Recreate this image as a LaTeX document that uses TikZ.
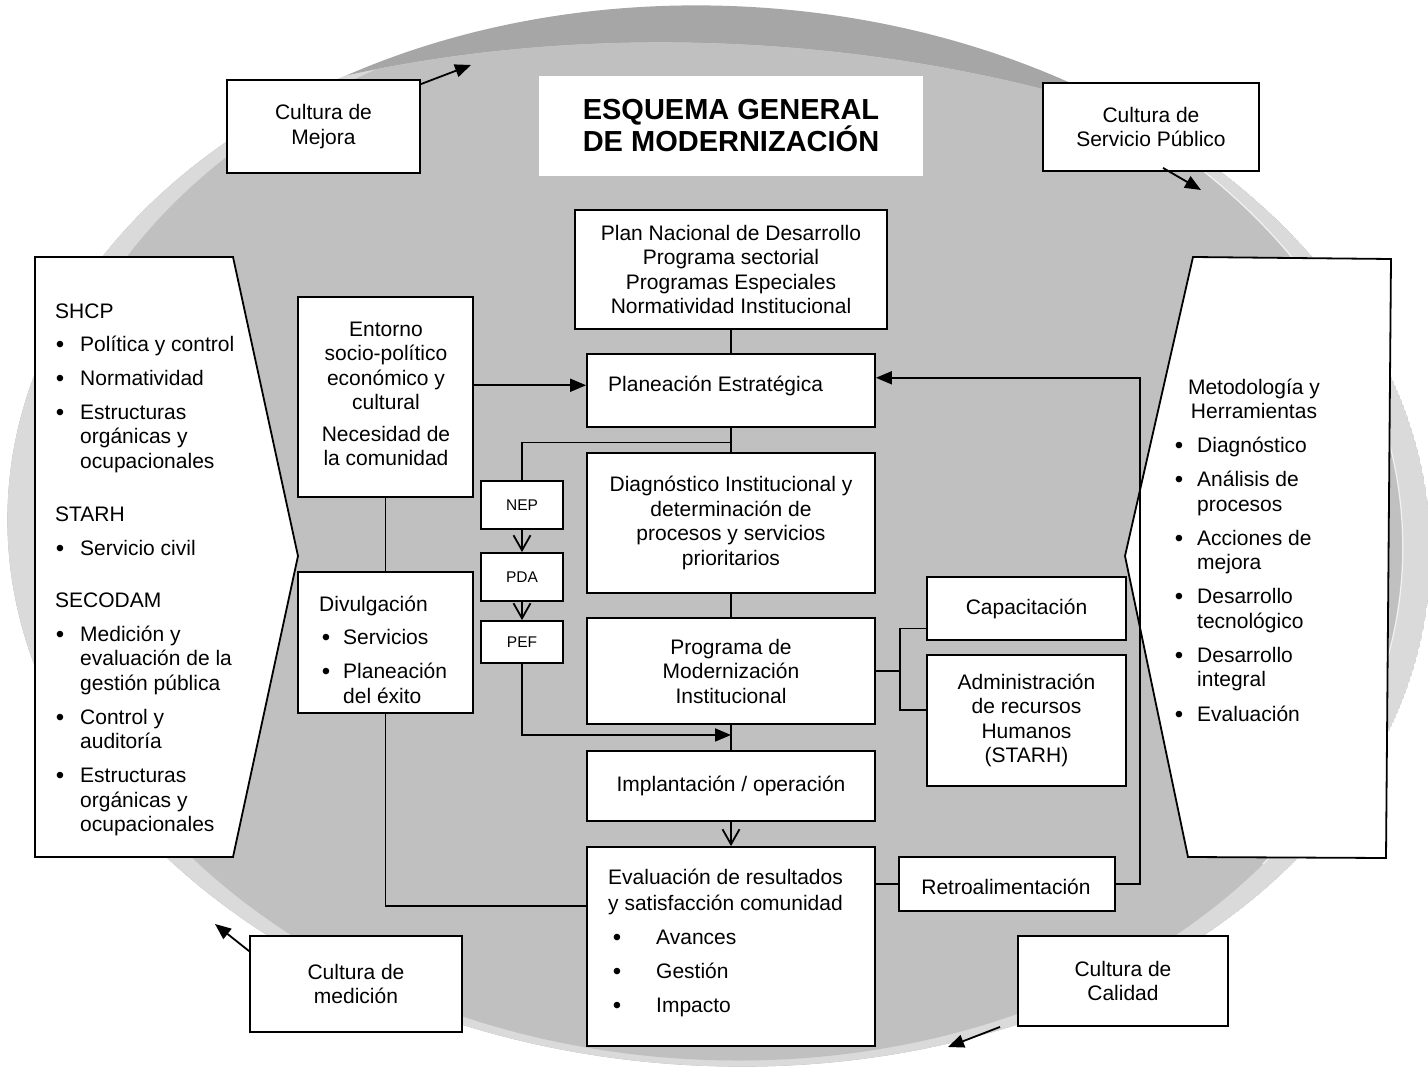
\documentclass[tikz,border=0pt]{standalone}
\usepackage{fontspec}
\setmainfont{Liberation Sans}
\usetikzlibrary{arrows.meta,calc}

\definecolor{rimlight}{HTML}{DADADA}
\definecolor{rimdark}{HTML}{A6A6A6}
\definecolor{disk}{HTML}{C0C0C0}

\newcommand{\bodyfont}{\fontsize{21}{24.5}\selectfont}
\newcommand{\dotfont}{\fontsize{24}{24}\selectfont}
\newcommand{\tagfont}{\fontsize{15.5}{18}\selectfont}
\newcommand{\titlefont}{\fontsize{29}{32}\selectfont\bfseries}

% box node from its corners: [style]{name}{x1}{y1}{x2}{y2}{text}
\newcommand{\boxnode}[7][]{%
  \node[box,#1,minimum width={#5-#3},minimum height={#6-#4}]
    (#2) at ({(#3+#5)/2},{(#4+#6)/2}) {#7};}

\tikzset{
  box/.style={draw=black,line width=1.8pt,fill=white,inner sep=0pt,
    align=center,font=\bodyfont},
  panel/.style={draw=black,line width=1.8pt,fill=white,line join=miter},
  lbl/.style={font=\bodyfont,inner sep=0pt,anchor=base west},
  dot/.style={font=\dotfont,inner sep=0pt,anchor=base},
  conn/.style={line width=1.8pt},
  tri/.style={conn,-{Triangle[length=16pt,width=13pt]}},
  vee/.style={conn,-{Straight Barb[length=15pt,width=17pt]}},
}

\begin{document}
\begin{tikzpicture}[x=1pt,y=-1pt]
\useasboundingbox (0,0) rectangle (1428,1067);

% shaded disc in the background: dark top rim, light side rims, grey face
\begin{scope}[rotate around={-3:(719,536)}]
  \clip (719,536) ellipse [x radius=712,y radius=530];
  \fill[rimdark] (719,536) ellipse [x radius=712,y radius=530];
  \begin{scope}
    \clip (719,574) ellipse [x radius=919,y radius=530];
    \fill[rimlight] (719,536) ellipse [x radius=712,y radius=530];
    \fill[disk] (719,533) ellipse [x radius=684,y radius=527];
    % thin highlight along the inner edge of the right rim
    \draw[white,opacity=0.75,line width=1.2pt]
      ([shift={(-70:684 and 527)}]719,533) arc [start angle=-70,end angle=35,
        x radius=684,y radius=527];
  \end{scope}
\end{scope}

% side panels
\draw[panel] (35,257) -- (233,257) -- (298,556) -- (233,857) -- (35,857) -- cycle;
\draw[panel] (1193,257) -- (1391,259) -- (1386,858) -- (1188,857) -- (1125,556) -- cycle;

% title
\node[fill=white,inner sep=0pt,minimum width=384,minimum height=100,
  align=center,font=\titlefont] (title) at (731,126)
  {ESQUEMA GENERAL\\DE MODERNIZACIÓN};

% culture boxes
\boxnode{mej}{227}{80}{420}{173}{Cultura de\\Mejora}
\boxnode{serv}{1043}{83}{1259}{171}{Cultura de\\Servicio Público}
\boxnode{med}{250}{936}{462}{1032}{Cultura de\\medición}
\boxnode{cal}{1018}{936}{1228}{1026}{Cultura de\\Calidad}

\coordinate (mejtip) at (471,65);
\coordinate (servtip) at (1201,190);
\coordinate (medtip) at (215,924);
\coordinate (caltip) at (948,1047);
\draw[tri] ($(mej.north east)+(0,5)$) -- (mejtip);
\draw[tri] ($(serv.south)+(12,-4)$) -- (servtip);
\draw[tri] ($(med.north west)+(0,16)$) -- (medtip);
\draw[tri] ($(cal.south west)+(-17,0)$) -- (caltip);

% central column
\boxnode{plan}{575}{210}{887}{329}{Plan Nacional de Desarrollo\\Programa sectorial\\Programas Especiales\\Normatividad Institucional}
\boxnode{pe}{587}{354}{875}{427}{}
\node[lbl] (pet) at (608,391.5) {Planeación Estratégica};
\boxnode{diag}{587}{453}{875}{593}{Diagnóstico Institucional y\\determinación de\\procesos y servicios\\prioritarios}
\boxnode{prog}{587}{618}{875}{724}{Programa de\\Modernización\\Institucional}
\boxnode{impl}{587}{751}{875}{821}{Implantación / operación}
\boxnode{eval}{587}{847}{875}{1046}{}
\node[lbl] (ev1) at (608,884.5) {Evaluación de resultados};
\node[lbl] (ev2) at (608,910.5) {y satisfacción comunidad};
\foreach \t/\y [count=\i] in {Avances/937,Gestión/971,Impacto/1005}{
  \node[dot] (evb\i) at (617,\y+8.5) {•};
  \node[lbl] (evi\i) at (656,\y+7.5) {\t};
}

% right-hand boxes
\boxnode{cap}{927}{577}{1126}{640}{Capacitación}
\boxnode{adm}{927}{655}{1126}{786}{Administración\\de recursos\\Humanos\\(STARH)}
\boxnode{retro}{899}{857}{1115}{911}{}
\node[font=\bodyfont,inner sep=0pt] (retrot) at (1006,887) {Retroalimentación};

% left-hand boxes
\boxnode{ent}{298}{297}{473}{497}{}
\node[font=\bodyfont,align=center,inner sep=0pt] (entt) at (386,394)
  {Entorno\\socio-político\\económico y\\cultural\\[7pt]Necesidad de\\la comunidad};
\boxnode{div}{298}{572}{473}{713}{}
\node[lbl] (divt) at (319,611.5) {Divulgación};
\node[dot] (divb1) at (326,645.5) {•};
\node[lbl] (divi1) at (343,644.5) {Servicios};
\node[dot] (divb2) at (326,679.5) {•};
\node[lbl] (divi2) at (343,678.5) {Planeación};
\node[lbl] (divi3) at (343,703.5) {del éxito};

% programme tags
\boxnode[font=\tagfont]{nep}{481}{481}{563}{529}{NEP}
\boxnode[font=\tagfont]{pda}{481}{553}{563}{601}{PDA}
\boxnode[font=\tagfont]{pef}{481}{621}{563}{663}{PEF}

% connectors
\draw[conn] (plan.south) -- (pe.north);
\draw[conn] (pe.south) -- (diag.north);
\coordinate (j1) at ($(pe.south)!0.6!(diag.north)$);
\draw[conn] (j1) -| (nep.north);
\draw[vee] (nep.south) -- (pda.north);
\draw[vee] (pda.south) -- (pef.north);
\draw[conn] (diag.south) -- (prog.north);
\draw[conn] (prog.south) -- (impl.north);
\coordinate (j2) at ($(prog.south)!0.4!(impl.north)$);
\draw[tri] (pef.south) |- (j2);
\draw[vee] (impl.south) -- (eval.north);

\coordinate (peW) at ($(pe.north west)!0.43!(pe.south west)$);
\coordinate (peE) at ($(pe.north east)!0.33!(pe.south east)$);
\draw[tri] (ent.east |- peW) -- (peW);
\draw[conn] (ent.south) -- (div.north);
\coordinate (evW) at ($(eval.north west)!0.3!(eval.south west)$);
\draw[conn] (div.south) |- (evW);
\draw[conn] (eval.east |- retro.west) -- (retro.west);
\coordinate (rb) at ($(retro.east)+(24,0)$);
\draw[tri] (retro.east) -- (rb) |- (peE);

\coordinate (bk) at ($(prog.east)+(24,0)$);
\coordinate (capW) at ($(cap.north west)!0.81!(cap.south west)$);
\coordinate (admW) at ($(adm.north west)!0.42!(adm.south west)$);
\draw[conn] (prog.east) -- (bk);
\draw[conn] (capW) -| (bk |- admW) -- (admW);

% left panel text
\foreach \t/\y [count=\i] in {SHCP/311,STARH/514,SECODAM/600}
  \node[lbl] (lh\i) at (55,\y+7.5) {\t};
\foreach \t/\y [count=\i] in {Política y control/344,Normatividad/378,
    Estructuras/412,orgánicas y/436,ocupacionales/461,Servicio civil/548,
    Medición y/634,evaluación de la/658,gestión pública/683,Control y/717,
    auditoría/741,Estructuras/775,orgánicas y/800,ocupacionales/824}
  \node[lbl] (li\i) at (80,\y+7.5) {\t};
\foreach \y [count=\i] in {344,378,412,548,634,717,775}
  \node[dot] (lb\i) at (60,\y+8.5) {•};

% right panel text
\node[font=\bodyfont,align=center,inner sep=0pt] (rh) at (1254,399)
  {Metodología y\\Herramientas};
\foreach \t/\y [count=\i] in {Diagnóstico/445,Análisis de/479,procesos/504,
    Acciones de/538,mejora/562,Desarrollo/596,tecnológico/621,
    Desarrollo/655,integral/679,Evaluación/714}
  \node[lbl] (ri\i) at (1197,\y+7.5) {\t};
\foreach \y [count=\i] in {445,479,538,596,655,714}
  \node[dot] (rb\i) at (1179,\y+8.5) {•};
\end{tikzpicture}
\end{document}
